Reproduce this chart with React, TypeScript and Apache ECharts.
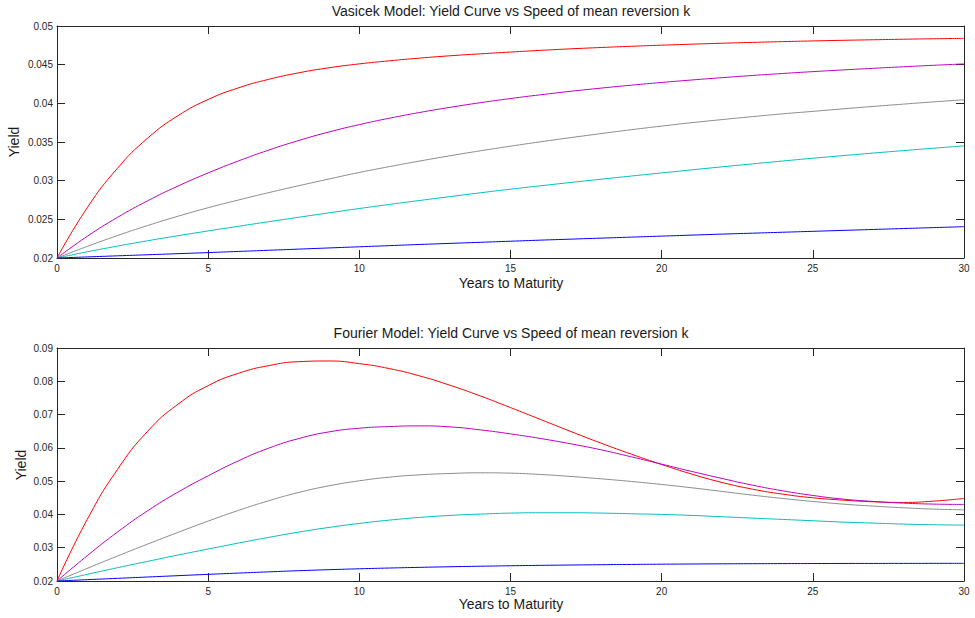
import React, { useEffect, useRef } from "react";
import * as echarts from "echarts";

// Maturities (years) at which the curves were read
const maturities = [0, 1, 2, 3, 4, 5, 6, 7, 8, 9, 10, 11, 12, 13, 14, 15, 16, 17, 18, 19, 20, 21, 22, 23, 24, 25, 26, 27, 28, 29, 30];

// Vasicek model yields
const vasRed = [0.02, 0.0265, 0.0316, 0.0355, 0.0384, 0.0405, 0.042, 0.0431, 0.04395, 0.0446, 0.0451, 0.0455, 0.04585, 0.04615, 0.0464, 0.04663, 0.04685, 0.04705, 0.04722, 0.04738, 0.04752, 0.04765, 0.04777, 0.04788, 0.04798, 0.04807, 0.04815, 0.04822, 0.04829, 0.04835, 0.0484];
const vasMagenta = [0.02, 0.0228, 0.02525, 0.0274, 0.0293, 0.031, 0.03255, 0.03395, 0.0352, 0.0363, 0.03725, 0.03808, 0.03882, 0.03948, 0.04008, 0.04062, 0.04111, 0.04156, 0.04197, 0.04235, 0.0427, 0.04302, 0.04332, 0.0436, 0.04386, 0.0441, 0.04432, 0.04453, 0.04473, 0.04492, 0.0451];
const vasGray = [0.02, 0.0215, 0.0229, 0.0242, 0.0254, 0.0265, 0.0275, 0.02845, 0.02935, 0.03022, 0.03106, 0.03182, 0.03254, 0.03322, 0.03386, 0.03446, 0.03503, 0.03557, 0.03609, 0.03659, 0.03706, 0.0375, 0.0379, 0.03828, 0.03864, 0.03896, 0.03929, 0.0396, 0.0399, 0.04019, 0.04046];
const vasCyan = [0.02, 0.0208, 0.02154, 0.02223, 0.02288, 0.0235, 0.0241, 0.02469, 0.02527, 0.02584, 0.0264, 0.02693, 0.02744, 0.02794, 0.02843, 0.0289, 0.02934, 0.02977, 0.03019, 0.0306, 0.031, 0.0314, 0.03179, 0.03217, 0.03254, 0.0329, 0.03324, 0.03357, 0.03389, 0.0342, 0.0345];
const vasBlue = [0.02, 0.02014, 0.02028, 0.02042, 0.02056, 0.0207, 0.02085, 0.021, 0.02115, 0.0213, 0.02145, 0.0216, 0.02175, 0.02189, 0.02203, 0.02217, 0.02231, 0.02244, 0.02257, 0.0227, 0.02283, 0.02296, 0.02309, 0.02321, 0.02333, 0.02345, 0.02357, 0.02369, 0.02381, 0.02393, 0.02405];

// Fourier model yields
const fouRed = [0.02, 0.0385, 0.0535, 0.065, 0.0731, 0.0787, 0.0824, 0.0847, 0.0859, 0.0861, 0.0853, 0.0838, 0.0816, 0.0788, 0.0756, 0.0721, 0.0685, 0.0649, 0.0614, 0.0581, 0.055, 0.0521, 0.0496, 0.0476, 0.0461, 0.045, 0.0443, 0.0438, 0.0436, 0.044, 0.0448];
const fouMagenta = [0.02, 0.0276, 0.0347, 0.0411, 0.0467, 0.0516, 0.0561, 0.0599, 0.0628, 0.0648, 0.0659, 0.0664, 0.0666, 0.0663, 0.0654, 0.0642, 0.0628, 0.0612, 0.0594, 0.0573, 0.0551, 0.0529, 0.0508, 0.0488, 0.0471, 0.0457, 0.0446, 0.0439, 0.0434, 0.0431, 0.043];
const fouGray = [0.02, 0.0238, 0.0275, 0.0311, 0.0346, 0.038, 0.0412, 0.0441, 0.0466, 0.0486, 0.0501, 0.0512, 0.0519, 0.0523, 0.0525, 0.0524, 0.052, 0.0514, 0.0507, 0.0499, 0.049, 0.048, 0.0469, 0.0458, 0.0448, 0.0439, 0.0431, 0.0425, 0.042, 0.0416, 0.0414];
const fouCyan = [0.02, 0.022, 0.024, 0.0259, 0.0278, 0.0296, 0.0314, 0.0331, 0.0347, 0.0361, 0.0373, 0.0383, 0.0391, 0.0397, 0.0401, 0.0404, 0.0405, 0.0405, 0.0404, 0.0402, 0.04, 0.0397, 0.0393, 0.0389, 0.0385, 0.0381, 0.0377, 0.0374, 0.0371, 0.0369, 0.0368];
const fouBlue = [0.02, 0.0204, 0.0208, 0.0212, 0.0216, 0.022, 0.02238, 0.02275, 0.0231, 0.0234, 0.02367, 0.0239, 0.0241, 0.02428, 0.02444, 0.02458, 0.0247, 0.0248, 0.0249, 0.02498, 0.02505, 0.02511, 0.02516, 0.0252, 0.02523, 0.02525, 0.02527, 0.02528, 0.02529, 0.0253, 0.0253];

const titles = [
  "Vasicek Model: Yield Curve vs Speed of mean reversion k",
  "Fourier Model: Yield Curve vs Speed of mean reversion k",
];
const xName = "Years to Maturity";
const yName = "Yield";

const colors = ["#ff0000", "#bf00bf", "#8c8c8c", "#00bfbf", "#0000ff"];
const FONT = "'Liberation Sans', Arial, Helvetica, sans-serif";
const AX = "#262626";

function pairs(xs: number[], ys: number[]) {
  return xs.map((x, i) => [x, ys[i]]);
}

function fmt(v: number) {
  return String(Number(v.toFixed(4)));
}

export default function App() {
  const ref = useRef<HTMLDivElement>(null);
  useEffect(() => {
    if (!ref.current) return;
    const chart = echarts.init(ref.current, undefined, { renderer: "svg" });

    const grids = [
      { left: 57, right: 11, top: 26, height: 232 },
      { left: 57, right: 11, top: 348, height: 233 },
    ];
    const yRanges = [
      { min: 0.02, max: 0.05, interval: 0.005 },
      { min: 0.02, max: 0.09, interval: 0.01 },
    ];

    const axisLine = { show: true, onZero: false, lineStyle: { color: AX, width: 1 } };
    const tick = { show: true, inside: true, length: 8, lineStyle: { color: AX, width: 1 } };

    const xAxis: any[] = [];
    const yAxis: any[] = [];
    [0, 1].forEach((g) => {
      xAxis.push({
        type: "value", gridIndex: g, position: "bottom", min: 0, max: 30, interval: 5,
        axisLine, axisTick: tick, splitLine: { show: false },
        axisLabel: { color: AX, fontSize: 10, margin: 5, fontFamily: FONT },
      });
      xAxis.push({
        type: "value", gridIndex: g, position: "top", min: 0, max: 30, interval: 5,
        axisLine, axisTick: tick, splitLine: { show: false }, axisLabel: { show: false },
      });
      yAxis.push({
        type: "value", gridIndex: g, position: "left", ...yRanges[g],
        axisLine, axisTick: tick, splitLine: { show: false },
        axisLabel: { color: AX, fontSize: 10, margin: 4, fontFamily: FONT, formatter: fmt },
      });
      yAxis.push({
        type: "value", gridIndex: g, position: "right", ...yRanges[g],
        axisLine, axisTick: tick, splitLine: { show: false }, axisLabel: { show: false },
      });
    });

    const vas = [vasRed, vasMagenta, vasGray, vasCyan, vasBlue];
    const fou = [fouRed, fouMagenta, fouGray, fouCyan, fouBlue];
    const series: any[] = [];
    vas.forEach((ys, i) => {
      series.push({
        type: "line", xAxisIndex: 0, yAxisIndex: 0, data: pairs(maturities, ys),
        showSymbol: false, smooth: 0.5,
        lineStyle: { color: colors[i], width: 1 }, itemStyle: { color: colors[i] },
      });
    });
    fou.forEach((ys, i) => {
      series.push({
        type: "line", xAxisIndex: 2, yAxisIndex: 2, data: pairs(maturities, ys),
        showSymbol: false, smooth: 0.5,
        lineStyle: { color: colors[i], width: 1 }, itemStyle: { color: colors[i] },
      });
    });

    const txt = (x: number, y: number, text: string, rot = 0) => ({
      type: "text", x, y, rotation: rot,
      style: {
        text, fill: "#1a1a1a", fontSize: 14, fontFamily: FONT,
        textAlign: "center", textVerticalAlign: "middle",
      },
    });

    chart.setOption({
      animation: false,
      backgroundColor: "#ffffff",
      textStyle: { fontFamily: FONT },
      grid: grids,
      xAxis,
      yAxis,
      series,
      graphic: [
        txt(511, 11, titles[0]),
        txt(511, 333, titles[1]),
        txt(511, 283, xName),
        txt(511, 604, xName),
        txt(14, 142, yName, Math.PI / 2),
        txt(20.5, 465, yName, Math.PI / 2),
      ],
    });
    return () => chart.dispose();
  }, []);

  return (
    <div
      ref={ref}
      style={{ position: "fixed", left: 0, top: 0, width: 975, height: 618, background: "#fff" }}
    />
  );
}
